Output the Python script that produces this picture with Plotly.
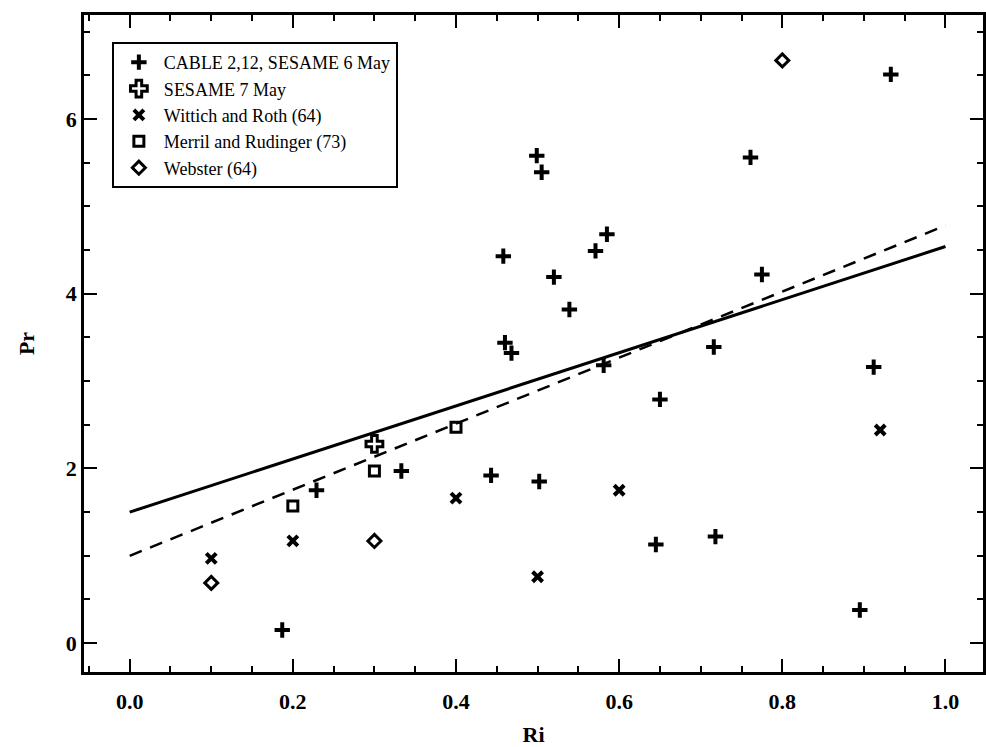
import plotly.graph_objects as go

# ---- data ----
cable_ri = [0.187, 0.229, 0.333, 0.443, 0.458, 0.460, 0.468, 0.499, 0.505, 0.502,
            0.520, 0.539, 0.571, 0.585, 0.581, 0.650, 0.645, 0.718, 0.716, 0.761,
            0.775, 0.895, 0.912, 0.933]
cable_pr = [0.15, 1.75, 1.97, 1.92, 4.43, 3.44, 3.32, 5.58, 5.39, 1.85,
            4.19, 3.82, 4.49, 4.68, 3.18, 2.79, 1.13, 1.22, 3.39, 5.56,
            4.22, 0.38, 3.16, 6.51]
sesame7_ri = [0.30]
sesame7_pr = [2.28]
wittich_ri = [0.10, 0.20, 0.40, 0.50, 0.60, 0.92]
wittich_pr = [0.97, 1.17, 1.66, 0.76, 1.75, 2.44]
merril_ri = [0.20, 0.30, 0.40]
merril_pr = [1.57, 1.97, 2.47]
webster_ri = [0.10, 0.30, 0.80]
webster_pr = [0.69, 1.17, 6.67]

fit_ri = [0.0, 1.0]
fit_solid_pr = [1.50, 4.54]
fit_dash_pr = [1.00, 4.78]

x_tick_vals = [0.0, 0.2, 0.4, 0.6, 0.8, 1.0]
x_tick_text = ["0.0", "0.2", "0.4", "0.6", "0.8", "1.0"]
y_tick_vals = [0, 2, 4, 6]
y_tick_text = ["0", "2", "4", "6"]

FONT = "Liberation Serif"

fig = go.Figure()
fig.add_trace(go.Scatter(x=fit_ri, y=fit_solid_pr, mode="lines", showlegend=False,
                         line=dict(color="black", width=3)))
fig.add_trace(go.Scatter(x=fit_ri, y=fit_dash_pr, mode="lines", showlegend=False,
                         line=dict(color="black", width=2.5, dash="13px,9px")))
fig.add_trace(go.Scatter(x=cable_ri, y=cable_pr, mode="markers", name="CABLE 2,12, SESAME 6 May",
                         marker=dict(symbol="cross-thin", size=11, color="black",
                                     line=dict(color="black", width=4))))
fig.add_trace(go.Scatter(x=sesame7_ri, y=sesame7_pr, mode="markers", name="SESAME 7 May",
                         marker=dict(symbol="cross-open", size=14, color="black",
                                     line=dict(color="black", width=3))))
fig.add_trace(go.Scatter(x=wittich_ri, y=wittich_pr, mode="markers", name="Wittich and Roth (64)",
                         marker=dict(symbol="x-thin", size=10, color="black",
                                     line=dict(color="black", width=4))))
fig.add_trace(go.Scatter(x=merril_ri, y=merril_pr, mode="markers", name="Merril and Rudinger (73)",
                         marker=dict(symbol="square-open", size=10, color="black",
                                     line=dict(color="black", width=3))))
fig.add_trace(go.Scatter(x=webster_ri, y=webster_pr, mode="markers", name="Webster (64)",
                         marker=dict(symbol="diamond-open", size=10, color="black",
                                     line=dict(color="black", width=3))))

axis_common = dict(showline=True, linecolor="black", linewidth=2.5, mirror="ticks",
                   ticks="inside", ticklen=13, tickwidth=2, tickcolor="black",
                   showgrid=False, zeroline=False, automargin=False,
                   tickfont=dict(family=FONT, size=22, color="black", weight="bold"))

fig.update_xaxes(range=[-0.056, 1.046], tickvals=x_tick_vals, ticktext=x_tick_text,
                 minor=dict(dtick=0.05, tick0=0, ticks="inside", ticklen=6, tickwidth=1.5,
                            tickcolor="black"),
                 ticklabelstandoff=8,
                 title=dict(text="Ri", font=dict(family=FONT, size=22, color="black", weight="bold"),
                            standoff=18),
                 **axis_common)
fig.update_yaxes(range=[-0.33, 7.19], tickvals=y_tick_vals, ticktext=y_tick_text,
                 minor=dict(dtick=0.5, tick0=0, ticks="inside", ticklen=6, tickwidth=1.5,
                            tickcolor="black"),
                 title=dict(text="Pr", font=dict(family=FONT, size=22, color="black", weight="bold"),
                            standoff=26),
                 **axis_common)

fig.update_layout(
    width=986, height=747,
    margin=dict(l=84, r=3, t=15, b=75),
    paper_bgcolor="white", plot_bgcolor="white",
    font=dict(family=FONT, color="black"),
    legend=dict(x=0.031, y=0.959, xanchor="left", yanchor="top",
                bgcolor="white", bordercolor="black", borderwidth=2,
                font=dict(family=FONT, size=18, color="black"),
                itemwidth=40, tracegroupgap=0),
)

fig.write_html("out.html")
